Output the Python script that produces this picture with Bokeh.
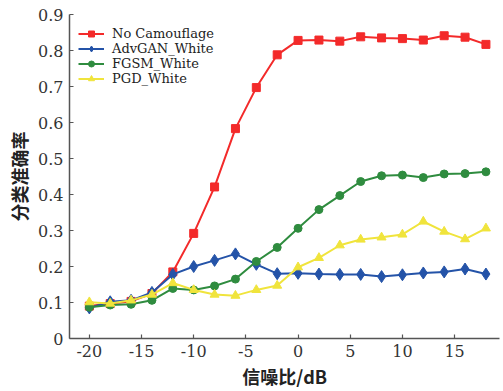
from bokeh.plotting import figure
from bokeh.models import Range1d, FixedTicker, Legend, LegendItem, CustomJSTickFormatter
from bokeh.embed import file_html
from bokeh.resources import INLINE

snr = [-20, -18, -16, -14, -12, -10, -8, -6, -4, -2, 0, 2, 4, 6, 8, 10, 12, 14, 16, 18]
no_camouflage = [0.090, 0.097, 0.103, 0.125, 0.185, 0.292, 0.421, 0.583, 0.697, 0.788, 0.828, 0.829, 0.826,
                 0.838, 0.835, 0.833, 0.829, 0.841, 0.837, 0.817]
advgan_white = [0.085, 0.102, 0.106, 0.128, 0.178, 0.200, 0.217, 0.235, 0.206, 0.180, 0.181, 0.179, 0.178,
                0.178, 0.172, 0.177, 0.182, 0.185, 0.193, 0.179]
fgsm_white = [0.087, 0.093, 0.095, 0.106, 0.139, 0.135, 0.146, 0.165, 0.214, 0.253, 0.306, 0.358, 0.397,
              0.436, 0.452, 0.454, 0.447, 0.457, 0.458, 0.463]
pgd_white = [0.101, 0.097, 0.106, 0.122, 0.154, 0.135, 0.122, 0.119, 0.135, 0.147, 0.198, 0.224, 0.259,
             0.275, 0.281, 0.289, 0.325, 0.297, 0.276, 0.306]
series_names = ["No Camouflage", "AdvGAN_White", "FGSM_White", "PGD_White"]
x_ticks = [-20, -15, -10, -5, 0, 5, 10, 15]
y_ticks = [0, 0.1, 0.2, 0.3, 0.4, 0.5, 0.6, 0.7, 0.8, 0.9]

p = figure(width=503, height=391, output_backend="svg", toolbar_location=None,
           x_range=Range1d(-21.9, 19.3), y_range=Range1d(0, 0.9),
           min_border_left=69, min_border_right=4, min_border_top=14, min_border_bottom=51)
p.outline_line_color = None
p.xgrid.visible = False
p.ygrid.visible = False
p.background_fill_color = "white"
p.border_fill_color = "white"

serif = "DejaVu Serif"
cjk = "Noto Sans CJK SC"
for ax in (p.xaxis[0], p.yaxis[0]):
    ax.axis_line_color = "#555555"
    ax.axis_line_width = 1.5
    ax.major_tick_line_color = "#555555"
    ax.major_tick_line_width = 1.2
    ax.major_tick_in = 4
    ax.major_tick_out = 0
    ax.minor_tick_line_color = None
    ax.major_label_text_font = serif
    ax.major_label_text_font_size = "16px"
    ax.major_label_text_color = "#333333"
    ax.major_label_standoff = 6
    ax.axis_label_text_font = cjk
    ax.axis_label_text_font_size = "18px"
    ax.axis_label_text_font_style = "bold"
    ax.axis_label_text_color = "#222222"
    ax.axis_label_standoff = 3

p.xaxis[0].ticker = FixedTicker(ticks=x_ticks)
p.yaxis[0].ticker = FixedTicker(ticks=y_ticks)
p.xaxis[0].formatter = CustomJSTickFormatter(code="return String(tick);")
p.yaxis[0].formatter = CustomJSTickFormatter(code="return Math.abs(tick) < 1e-9 ? '0' : tick.toFixed(1);")
p.xaxis[0].axis_label = "信噪比/dB"
p.yaxis[0].axis_label = "分类准确率"

red, blue, green, yellow = "#f32a2a", "#2453a8", "#2f8c3f", "#f0e43c"

r1 = p.line(snr, no_camouflage, line_color=red, line_width=2)
m1 = p.scatter(snr, no_camouflage, marker="square", size=8, color=red)
r2 = p.line(snr, advgan_white, line_color=blue, line_width=2)
m2 = p.scatter(snr, advgan_white, marker="diamond", size=12, color=blue)
r3 = p.line(snr, fgsm_white, line_color=green, line_width=2)
m3 = p.scatter(snr, fgsm_white, marker="circle", size=8, color=green)
r4 = p.line(snr, pgd_white, line_color=yellow, line_width=2)
m4 = p.scatter(snr, pgd_white, marker="triangle", size=9, color=yellow)

legend = Legend(items=[
    LegendItem(label=series_names[0], renderers=[r1, m1]),
    LegendItem(label=series_names[1], renderers=[r2, m2]),
    LegendItem(label=series_names[2], renderers=[r3, m3]),
    LegendItem(label=series_names[3], renderers=[r4, m4]),
], location=(9, 252))
legend.margin = 0
legend.padding = 0
legend.spacing = 0
legend.label_height = 15
legend.glyph_height = 15
legend.glyph_width = 26
legend.label_standoff = 8
legend.border_line_color = None
legend.background_fill_alpha = 0
legend.label_text_font = serif
legend.label_text_font_size = "13px"
legend.label_text_color = "#222222"
p.add_layout(legend, "center")

open("out.html", "w").write(file_html(p, INLINE))
